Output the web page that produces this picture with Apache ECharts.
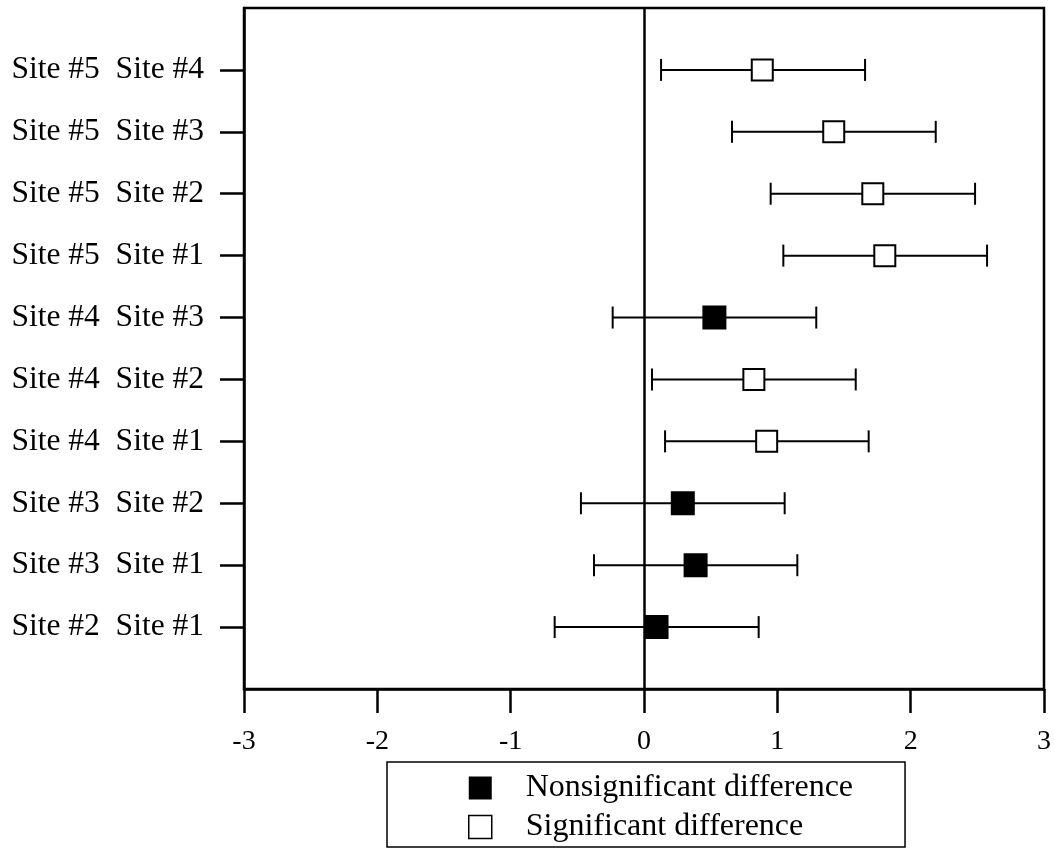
<!DOCTYPE html>
<html><head><meta charset="utf-8">
<script src="https://cdn.jsdelivr.net/npm/echarts@6/dist/echarts.min.js"></script>
<style>html,body{margin:0;padding:0;background:#fff}#c{width:1055px;height:850px}</style>
</head><body><div id="c"></div>
<script>
// Rows listed top to bottom
const categories = ['Site #5  Site #4','Site #5  Site #3','Site #5  Site #2','Site #5  Site #1','Site #4  Site #3',
                    'Site #4  Site #2','Site #4  Site #1','Site #3  Site #2','Site #3  Site #1','Site #2  Site #1'];
const means  = [0.887, 1.423, 1.716, 1.806, 0.528, 0.824, 0.920, 0.291, 0.387, 0.094];
const lowers = [0.128, 0.660, 0.950, 1.045, -0.235, 0.060, 0.158, -0.473, -0.375, -0.670];
const uppers = [1.658, 2.188, 2.483, 2.573, 1.292, 1.588, 1.685, 1.055, 1.150, 0.860];
const significant = [true, true, true, true, false, true, true, false, false, false];
const xTicks = [-3, -2, -1, 0, 1, 2, 3];
const legendNames = ['Nonsignificant difference', 'Significant difference'];

const FONT = "'Liberation Serif','Times New Roman',serif";
const yData = [''].concat(categories, ['']);
const barData = categories.map((c, i) => [lowers[i], uppers[i], i + 1]);
const nonsigData = [], sigData = [];
categories.forEach((c, i) => { (significant[i] ? sigData : nonsigData).push([means[i], i + 1]); });

const chart = echarts.init(document.getElementById('c'), null, {renderer: 'canvas'});
chart.setOption({
  animation: false,
  backgroundColor: '#fff',
  grid: {left: 244, right: 11, top: 8, bottom: 161, show: true, borderColor: '#000', borderWidth: 2.5, backgroundColor: 'transparent'},
  xAxis: {
    type: 'value', min: xTicks[0], max: xTicks[xTicks.length - 1], interval: 1,
    axisLine: {show: true, onZero: false, lineStyle: {color: '#000', width: 2.5}},
    axisTick: {show: true, length: 24, lineStyle: {color: '#000', width: 2.5}},
    axisLabel: {color: '#000', fontFamily: FONT, fontSize: 28, margin: 39, formatter: v => String(v)},
    splitLine: {show: false}
  },
  yAxis: {
    type: 'category', data: yData, inverse: true, boundaryGap: false,
    axisLine: {show: true, onZero: false, lineStyle: {color: '#000', width: 2.5}},
    axisTick: {show: true, length: 24, interval: (i, v) => v !== '', lineStyle: {color: '#000', width: 2.5}},
    axisLabel: {color: '#000', fontFamily: FONT, fontSize: 31.5, margin: 40, interval: (i, v) => v !== ''},
    splitLine: {show: false}
  },
  legend: {
    orient: 'vertical', left: 387, top: 762,
    itemWidth: 23, itemHeight: 23, itemGap: 7,
    padding: [10, 52, 4, 81],
    borderColor: '#000', borderWidth: 1.5, backgroundColor: '#fff',
    textStyle: {fontFamily: FONT, fontSize: 32, color: '#000', lineHeight: 32, padding: [0, 0, 0, 29]},
    data: [
      {name: legendNames[0], icon: 'rect', itemStyle: {color: '#000', borderColor: '#000', borderWidth: 0}},
      {name: legendNames[1], icon: 'rect', itemStyle: {color: '#fff', borderColor: '#000', borderWidth: 1.5}}
    ]
  },
  series: [
    {
      type: 'custom', name: 'ci', silent: true,
      dimensions: ['lo', 'hi', 'row'],
      encode: {x: [0, 1], y: 2},
      data: barData,
      renderItem: (params, api) => {
        const yi = api.value(2);
        const p1 = api.coord([api.value(0), yi]);
        const p2 = api.coord([api.value(1), yi]);
        const h = 11;
        const st = {stroke: '#000', lineWidth: 2};
        return {type: 'group', children: [
          {type: 'line', shape: {x1: p1[0], y1: p1[1], x2: p2[0], y2: p2[1]}, style: st},
          {type: 'line', shape: {x1: p1[0], y1: p1[1] - h, x2: p1[0], y2: p1[1] + h}, style: st},
          {type: 'line', shape: {x1: p2[0], y1: p2[1] - h, x2: p2[0], y2: p2[1] + h}, style: st}
        ]};
      },
      z: 2
    },
    {
      type: 'scatter', name: legendNames[0], data: nonsigData,
      symbol: 'rect', symbolSize: 22,
      itemStyle: {color: '#000', borderColor: '#000', borderWidth: 2, opacity: 1},
      z: 3
    },
    {
      type: 'scatter', name: legendNames[1], data: sigData,
      symbol: 'rect', symbolSize: 21,
      itemStyle: {color: '#fff', borderColor: '#000', borderWidth: 2, opacity: 1},
      markLine: {
        silent: true, symbol: 'none', animation: false,
        label: {show: false},
        lineStyle: {color: '#000', width: 2.5, type: 'solid'},
        data: [{xAxis: 0}]
      },
      z: 3
    }
  ]
});
</script>
</body></html>
